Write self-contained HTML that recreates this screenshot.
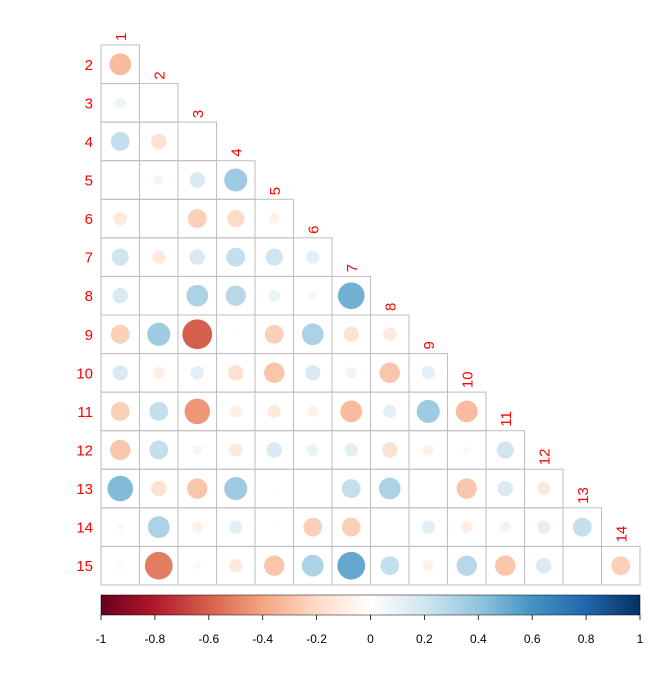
<!DOCTYPE html>
<html><head><meta charset="utf-8"><style>
html,body{margin:0;padding:0;background:#fff;}
svg{display:block;font-family:"Liberation Sans",sans-serif;}
</style></head><body>
<svg id="s" width="671" height="673" xmlns="http://www.w3.org/2000/svg">
<defs><linearGradient id="g" x1="0" x2="1" y1="0" y2="0">
<stop offset="0" stop-color="#67001F"/><stop offset="0.1" stop-color="#B2182B"/>
<stop offset="0.2" stop-color="#D6604D"/><stop offset="0.3" stop-color="#F4A582"/>
<stop offset="0.4" stop-color="#FDDBC7"/><stop offset="0.5" stop-color="#FFFFFF"/>
<stop offset="0.6" stop-color="#D1E5F0"/><stop offset="0.7" stop-color="#92C5DE"/>
<stop offset="0.8" stop-color="#4393C3"/><stop offset="0.9" stop-color="#2166AC"/>
<stop offset="1" stop-color="#053061"/></linearGradient></defs>
</svg>
<script>
var V=[[],[],
[-0.4],
[0.1,0],
[0.3,-0.2],
[0,0.08,0.2,0.45],
[-0.15,0.01,-0.3,-0.25,-0.1],
[0.25,-0.15,0.2,0.3,0.25,0.15],
[0.2,0.02,0.4,0.35,0.12,0.07,0.6],
[-0.3,0.45,-0.75,-0.02,-0.3,0.4,-0.2,-0.15],
[0.2,-0.12,0.15,-0.2,-0.35,0.2,0.1,-0.35,0.15],
[-0.3,0.3,-0.55,-0.12,-0.15,-0.1,-0.4,0.15,0.45,-0.4],
[-0.35,0.3,-0.08,-0.15,0.2,0.12,0.15,-0.2,-0.1,-0.05,0.25],
[0.55,-0.2,-0.35,0.45,0.02,0,0.3,0.4,0,-0.35,0.2,-0.15],
[0.05,0.4,-0.1,0.15,0.02,-0.3,-0.3,-0.01,0.15,-0.12,0.1,0.15,0.3],
[0.05,-0.65,-0.05,-0.15,-0.35,0.4,0.65,0.3,-0.1,0.35,-0.35,0.2,0.01,-0.3]];
var C=[[103,0,31],[178,24,43],[214,96,77],[244,165,130],[253,219,199],[255,255,255],[209,229,240],[146,197,222],[67,147,195],[33,102,172],[5,48,97]];
function col(v){var t=(v+1)*5,i=Math.min(9,Math.floor(t)),f=t-i,a=C[i],b=C[i+1];
return 'rgb('+[0,1,2].map(function(k){return Math.round(a[k]+(b[k]-a[k])*f)}).join(',')+')';}
var X0=101,Y0=45,W=38.5,H=38.57,h='';
for(var r=2;r<=15;r++){var y=Y0+(r-2)*H;
 h+='<text x="93" y="'+(y+H/2+5.5)+'" font-size="15" fill="#FF0000" text-anchor="end">'+r+'</text>';
 for(var c=1;c<r;c++){var x=X0+(c-1)*W;
  h+='<rect x="'+x+'" y="'+y+'" width="'+W+'" height="'+H+'" fill="none" stroke="#BEBEBE" stroke-width="1"/>';
  var v=V[r][c-1]*0.8;if(Math.abs(v)>0.004)h+='<circle cx="'+(x+W/2)+'" cy="'+(y+H/2)+'" r="'+(0.5*W*Math.sqrt(Math.abs(v)))+'" fill="'+col(v)+'"/>';
 }}
for(var c=1;c<=14;c++){var x=X0+(c-1)*W+W/2+5.5,y=Y0+(c-1)*H-4;
 h+='<text transform="translate('+x+','+y+') rotate(-90)" font-size="15" fill="#FF0000">'+c+'</text>';}
h+='<rect x="101" y="595" width="539" height="20" fill="url(#g)" stroke="#000" stroke-width="0.5"/>';
var L=['-1','-0.8','-0.6','-0.4','-0.2','0','0.2','0.4','0.6','0.8','1'];
for(var i=0;i<11;i++){var x=101+i*53.9;
 h+='<line x1="'+x+'" x2="'+x+'" y1="615" y2="620" stroke="#000" stroke-width="0.8"/>';
 h+='<text x="'+x+'" y="643" font-size="12" text-anchor="middle">'+L[i]+'</text>';}
document.getElementById('s').insertAdjacentHTML('beforeend',h);
</script>
</body></html>
